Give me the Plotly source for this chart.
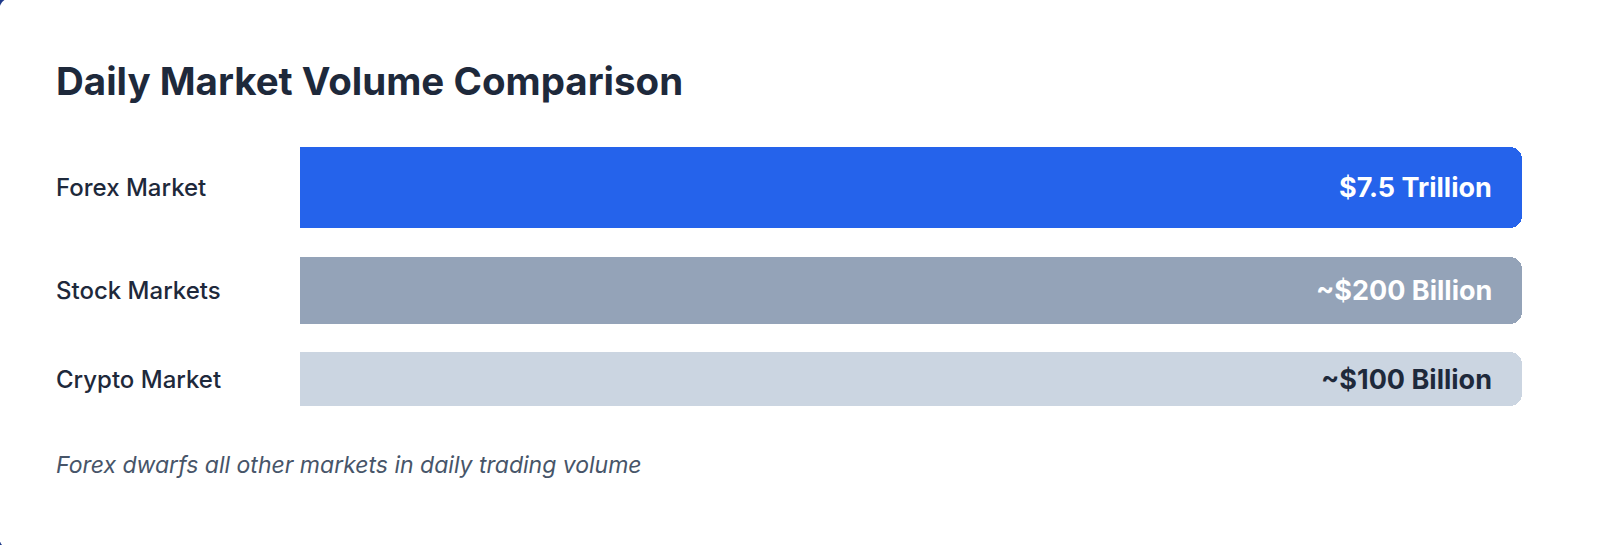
import plotly.graph_objects as go

# ---- data ----
markets = ["Forex Market", "Stock Markets", "Crypto Market"]
volume_labels = ["$7.5 Trillion", "~$200 Billion", "~$100 Billion"]
bar_fill = [100, 100, 100]          # bars drawn as full-width tracks
bar_colors = ["#2563eb", "#94a3b8", "#cbd5e1"]
value_text_colors = ["#ffffff", "#ffffff", "#1e293b"]
title_text = "Daily Market Volume Comparison"
footnote_text = "Forex dwarfs all other markets in daily trading volume"

# ---- layout geometry (pixels) ----
W, H = 1600, 545
L, R, T, B = 300, 78, 147, 139
PW, PH = W - L - R, H - T - B
thickness = [81, 67, 54]
gaps = [29, 28]

centers = []
pos = 0
for i, t in enumerate(thickness):
    centers.append(pos + t / 2)
    pos += t + (gaps[i] if i < len(gaps) else 0)


def px_x(px):
    return (px - L) / PW


def px_y(py):
    return 1 - (py - T) / PH


FONT = "Inter, 'Noto Sans', sans-serif"

fig = go.Figure()
fig.add_trace(go.Bar(
    x=bar_fill,
    y=centers,
    width=thickness,
    orientation="h",
    marker=dict(color=bar_colors, line=dict(width=0), cornerradius=12),
    hoverinfo="skip",
    showlegend=False,
))

annotations = []
for name, c in zip(markets, centers):
    annotations.append(dict(
        x=px_x(54), xref="paper", y=c, yref="y",
        text=name, showarrow=False, xanchor="left", yanchor="middle",
        font=dict(family=FONT, size=24, color="#1e293b", weight=500),
    ))
for lab, c, col in zip(volume_labels, centers, value_text_colors):
    annotations.append(dict(
        x=100, xref="x", y=c, yref="y", xshift=-28,
        text=lab, showarrow=False, xanchor="right", yanchor="middle",
        font=dict(family=FONT, size=27, color=col, weight=700),
    ))
annotations.append(dict(
    x=px_x(54), xref="paper", y=px_y(81), yref="paper",
    text=title_text, showarrow=False, xanchor="left", yanchor="middle",
    font=dict(family=FONT, size=38.5, color="#1e293b", weight=700),
))
annotations.append(dict(
    x=px_x(54), xref="paper", y=px_y(465), yref="paper",
    text="<i>" + footnote_text + "</i>", showarrow=False,
    xanchor="left", yanchor="middle",
    font=dict(family=FONT, size=23, color="#475569"),
))

# white card on dark backdrop (only left corners visible)
cx0, cy0, cx1, cy1, r = -1, -2, 1640, 549, 14
def P(px, py):
    return f"{px_x(px):.6f},{px_y(py):.6f}"
card_path = (
    f"M {P(cx0 + r, cy0)} L {P(cx1, cy0)} L {P(cx1, cy1)} "
    f"L {P(cx0 + r, cy1)} Q {P(cx0, cy1)} {P(cx0, cy1 - r)} "
    f"L {P(cx0, cy0 + r)} Q {P(cx0, cy0)} {P(cx0 + r, cy0)} Z"
)

fig.update_layout(
    width=W, height=H,
    margin=dict(l=L, r=R, t=T, b=B, pad=0),
    paper_bgcolor="#1e3a8a",
    plot_bgcolor="rgba(0,0,0,0)",
    xaxis=dict(range=[0, 100], visible=False, fixedrange=True),
    yaxis=dict(range=[PH, 0], visible=False, fixedrange=True),
    annotations=annotations,
    shapes=[dict(type="path", path=card_path, xref="paper", yref="paper",
                 fillcolor="#ffffff", line=dict(width=0), layer="below")],
    bargap=0,
    showlegend=False,
)

fig.write_html(
    "out.html",
    config={"displayModeBar": False, "staticPlot": True},
    post_script="document.body.style.margin='0';document.body.style.overflow='hidden';",
)
